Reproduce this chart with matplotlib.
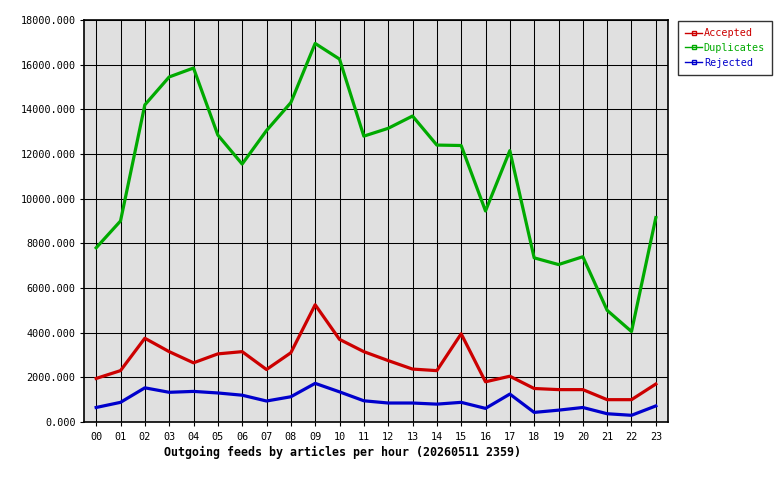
import numpy as np
import matplotlib
matplotlib.use('Agg')
import matplotlib.pyplot as plt
from matplotlib.ticker import FormatStrFormatter

hours = ['00', '01', '02', '03', '04', '05', '06', '07', '08', '09', '10', '11',
         '12', '13', '14', '15', '16', '17', '18', '19', '20', '21', '22', '23']
accepted = [1950, 2300, 3750, 3150, 2650, 3050, 3150, 2350, 3100, 5250, 3700, 3150,
            2750, 2370, 2300, 3950, 1800, 2050, 1500, 1450, 1450, 1000, 1000, 1700]
duplicates = [7800, 9000, 14200, 15450, 15850, 12850, 11550, 13050, 14300, 16950, 16250, 12800,
              13150, 13700, 12400, 12380, 9450, 12150, 7350, 7050, 7400, 5000, 4050, 9150]
rejected = [650, 880, 1530, 1330, 1370, 1300, 1200, 940, 1130, 1730, 1350, 950,
            850, 850, 800, 880, 610, 1250, 430, 530, 650, 370, 300, 720]
title = 'Outgoing feeds by articles per hour (20260511 2359)'

plt.rcParams['font.family'] = 'DejaVu Sans Mono'

fig = plt.figure(figsize=(7.8, 4.8), dpi=100)
ax = fig.add_axes([84/780, 58/480, 584/780, 402/480])
ax.set_facecolor('#e0e0e0')

x = np.arange(len(hours))
lw = 2.3
ax.plot(x, accepted, color='#cc0000', lw=lw, label='Accepted', zorder=3)
ax.plot(x, duplicates, color='#00aa00', lw=lw, label='Duplicates', zorder=3)
ax.plot(x, rejected, color='#0000cc', lw=lw, label='Rejected', zorder=3)

ax.set_xlim(-0.5, 23.5)
ax.set_ylim(0, 18000)
ax.set_xticks(x)
ax.set_xticklabels(hours)
ax.set_yticks(np.arange(0, 18001, 2000))
ax.yaxis.set_major_formatter(FormatStrFormatter('%.3f'))
ax.grid(True, color='black', lw=0.75, zorder=1)
ax.set_axisbelow(True)
for s in ax.spines.values():
    s.set_color('black')
    s.set_linewidth(1.2)
ax.tick_params(axis='both', length=3, width=0.8, labelsize=7.3, color='black', pad=3)
ax.tick_params(axis='x', pad=4)

fig.text(343/780, 1 - 452/480, title, ha='center', va='center',
         fontsize=8.4, fontweight='bold')

handles = [plt.Line2D([0, 0.5, 1], [0, 0, 0], color=c, lw=1, marker='s', markersize=2.5,
                      markerfacecolor='none', markevery=[1])
           for c in ['#cc0000', '#00aa00', '#0000cc']]
leg = fig.legend(handles, ['Accepted', 'Duplicates', 'Rejected'],
                 loc='upper left', bbox_to_anchor=(678/780, 1 - 21/480),
                 fontsize=7.3, frameon=True, fancybox=False, handlelength=1.7,
                 handletextpad=0.15, borderpad=0.7, labelspacing=0.48,
                 borderaxespad=0)
leg.get_frame().set_edgecolor('black')
leg.get_frame().set_linewidth(1)
for t, c in zip(leg.get_texts(), ['#cc0000', '#00aa00', '#0000cc']):
    t.set_color(c)

fig.savefig('out.png', dpi=100)
